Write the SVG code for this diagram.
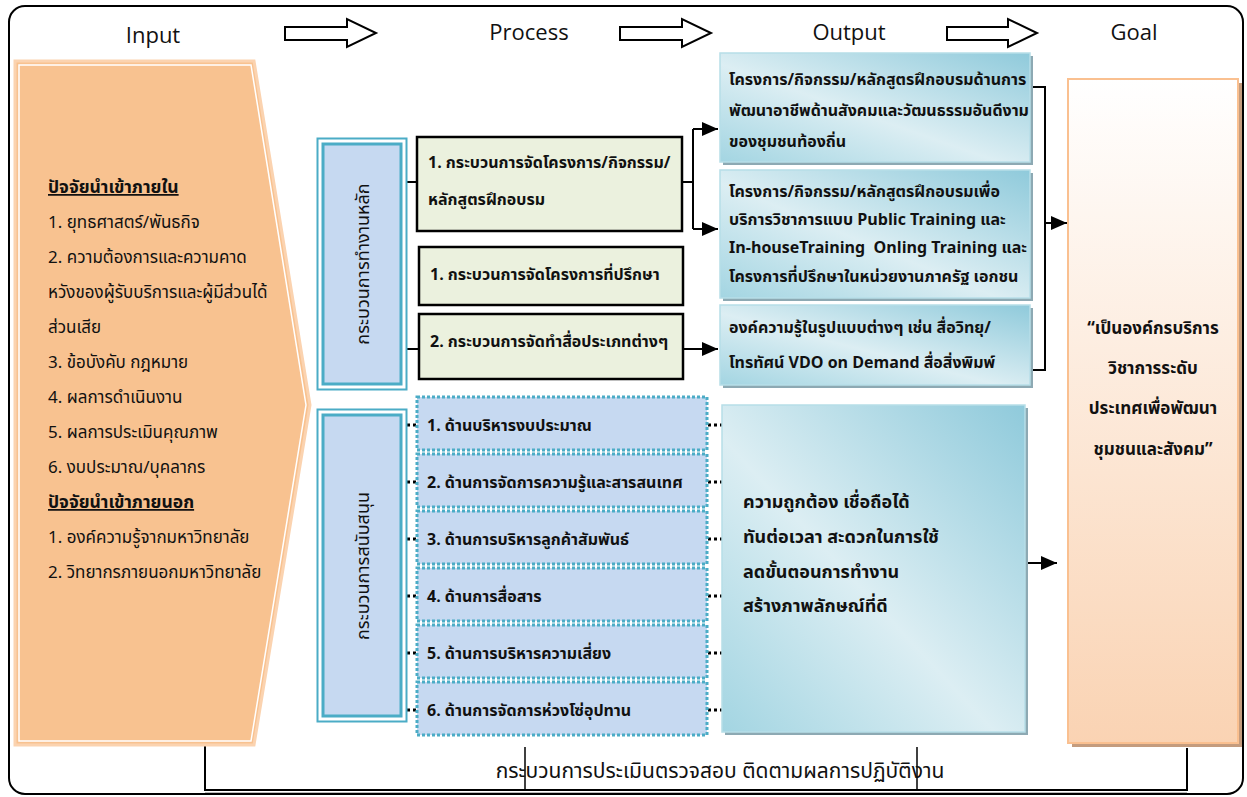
<svg xmlns="http://www.w3.org/2000/svg" width="1247" height="797" viewBox="0 0 1247 797">
<style>
.hdr{font-family:"Open Sans","Liberation Sans",sans-serif;font-size:22px;fill:#111}
.th{font-family:"Noto Sans Thai","Noto Sans Thai UI","Noto Sans","DejaVu Sans",sans-serif;font-size:16px;fill:#111}
.in{font-size:17px}
.inh{font-size:17.5px}
.b{font-weight:bold}
.blk{fill:#fff;stroke:#000;stroke-width:2}
.green{fill:#EBF1DE;stroke:#000;stroke-width:2.5}
.dot{fill:#C6D9F1;stroke:#4BACC6;stroke-width:3;stroke-dasharray:3 2}
.conn{fill:none;stroke:#000;stroke-width:2}
.dots{fill:none;stroke:#000;stroke-width:3;stroke-dasharray:3 3}
.out{fill:url(#gBlue);stroke:#B7DEE8;stroke-width:1.5}
.shb{fill:#8DA9B3}
</style>
<defs>
<linearGradient id="gBlue" x1="1" y1="0" x2="0" y2="1">
<stop offset="0" stop-color="#8FCADB"/>
<stop offset="0.55" stop-color="#DCEEF3"/>
<stop offset="1" stop-color="#A3D5E2"/>
</linearGradient>
<linearGradient id="gGoal" x1="0" y1="0" x2="0" y2="1">
<stop offset="0" stop-color="#FFFFFF"/>
<stop offset="1" stop-color="#FAD3B3"/>
</linearGradient>
<marker id="ah" markerUnits="userSpaceOnUse" markerWidth="16" markerHeight="14" refX="16" refY="7" orient="auto">
<path d="M0,0 L16,7 L0,14 z" fill="#000"/>
</marker>
</defs>

<rect x="9" y="6" width="1234" height="788" rx="16" ry="16" fill="#fff" stroke="#000" stroke-width="2"/>

<g id="headers">
<text class="hdr" x="153" y="43" text-anchor="middle">Input</text>
<text class="hdr" x="529" y="40" text-anchor="middle">Process</text>
<text class="hdr" x="849" y="40" text-anchor="middle">Output</text>
<text class="hdr" x="1134" y="40" text-anchor="middle">Goal</text>
<polygon class="blk" points="285,27 347,27 347,19 376,33 347,47 347,40 285,40"/>
<polygon class="blk" points="620,27 682,27 682,19 711,33 682,47 682,40 620,40"/>
<polygon class="blk" points="947,27 1008,27 1008,19 1037,33 1008,47 1008,40 947,40"/>
</g>

<g id="connectors">
<path class="conn" d="M205,745 V790 H1187 V748"/>
<line x1="205" y1="792.5" x2="1187" y2="792.5" stroke="#bbb" stroke-width="1"/>
<line x1="525" y1="747" x2="525" y2="790" stroke="#000" stroke-width="1.5"/>
<line x1="917" y1="747" x2="917" y2="790" stroke="#000" stroke-width="1.5"/>
<line class="conn" x1="405" y1="182" x2="417" y2="182"/>
<line class="conn" x1="403" y1="349" x2="419" y2="349"/>
<path class="conn" d="M682,182 H693 M693,129 V229"/>
<line class="conn" x1="693" y1="129" x2="718" y2="129" marker-end="url(#ah)"/>
<line class="conn" x1="693" y1="229" x2="718" y2="229" marker-end="url(#ah)"/>
<line class="conn" x1="683" y1="349" x2="718" y2="349" marker-end="url(#ah)"/>
<path class="conn" d="M1030,87 H1045 V370 H1030"/>
<line class="conn" x1="1045" y1="223" x2="1067" y2="223" marker-end="url(#ah)"/>
<line class="conn" x1="1025" y1="563" x2="1057" y2="563" marker-end="url(#ah)"/>
<line class="dots" x1="401" y1="425" x2="416" y2="425"/>
<line class="dots" x1="401" y1="482" x2="416" y2="482"/>
<line class="dots" x1="401" y1="539" x2="416" y2="539"/>
<line class="dots" x1="401" y1="596" x2="416" y2="596"/>
<line class="dots" x1="401" y1="653" x2="416" y2="653"/>
<line class="dots" x1="401" y1="710" x2="416" y2="710"/>
<line class="dots" x1="708" y1="425" x2="722" y2="425"/>
<line class="dots" x1="708" y1="482" x2="722" y2="482"/>
<line class="dots" x1="708" y1="539" x2="722" y2="539"/>
<line class="dots" x1="708" y1="596" x2="722" y2="596"/>
<line class="dots" x1="708" y1="653" x2="722" y2="653"/>
<line class="dots" x1="708" y1="710" x2="722" y2="710"/>
</g>

<g id="input">
<polygon points="15,61 254,61 310,405 254,745 15,745" fill="#F8C290" stroke="#FBD3B0" stroke-width="3"/>
<polygon points="19,65 251,65 306,405 251,741 19,741" fill="none" stroke="#fff" stroke-width="1.5"/>
<text class="th inh b" x="48" y="193" text-decoration="underline">ปัจจัยนำเข้าภายใน</text>
<text class="th in" x="48" y="228">1. ยุทธศาสตร์/พันธกิจ</text>
<text class="th in" x="48" y="263">2. ความต้องการและความคาด</text>
<text class="th in" x="48" y="298">หวังของผู้รับบริการและผู้มีส่วนได้</text>
<text class="th in" x="48" y="333">ส่วนเสีย</text>
<text class="th in" x="48" y="368">3. ข้อบังคับ กฎหมาย</text>
<text class="th in" x="48" y="403">4. ผลการดำเนินงาน</text>
<text class="th in" x="48" y="438">5. ผลการประเมินคุณภาพ</text>
<text class="th in" x="48" y="473">6. งบประมาณ/บุคลากร</text>
<text class="th inh b" x="48" y="508" text-decoration="underline">ปัจจัยนำเข้าภายนอก</text>
<text class="th in" x="48" y="543">1. องค์ความรู้จากมหาวิทยาลัย</text>
<text class="th in" x="48" y="578">2. วิทยากรภายนอกมหาวิทยาลัย</text>
</g>

<g id="main-process">
<rect x="317.5" y="138.5" width="89" height="251" fill="#fff" stroke="#4BACC6" stroke-width="2"/>
<rect x="323" y="144" width="78" height="240" fill="#C6D9F1" stroke="#4BACC6" stroke-width="3"/>
<text class="th" style="font-size:18px" transform="translate(369,264) rotate(-90)" text-anchor="middle">กระบวนการทำงานหลัก</text>
</g>

<g id="support-process">
<rect x="317.5" y="409.5" width="89" height="312" fill="#fff" stroke="#4BACC6" stroke-width="2"/>
<rect x="323" y="415" width="78" height="301" fill="#C6D9F1" stroke="#4BACC6" stroke-width="3"/>
<text class="th" style="font-size:18px" transform="translate(369,566) rotate(-90)" text-anchor="middle">กระบวนการสนับสนุน</text>
</g>

<g id="p1">
<rect class="green" x="417" y="137" width="265" height="94"/>
<text class="th b" x="428" y="168">1. กระบวนการจัดโครงการ/กิจกรรม/</text>
<text class="th b" x="428" y="205">หลักสูตรฝึกอบรม</text>
</g>
<g id="p2">
<rect class="green" x="419" y="247" width="264" height="58"/>
<text class="th b" x="430" y="280">1. กระบวนการจัดโครงการที่ปรึกษา</text>
</g>
<g id="p3">
<rect class="green" x="419" y="314" width="264" height="65"/>
<text class="th b" x="430" y="347">2. กระบวนการจัดทำสื่อประเภทต่างๆ</text>
</g>

<g id="s1"><rect class="dot" x="417" y="397" width="290" height="53"/><text class="th b" x="427" y="431">1. ด้านบริหารงบประมาณ</text></g>
<g id="s2"><rect class="dot" x="417" y="454" width="290" height="53"/><text class="th b" x="427" y="488">2. ด้านการจัดการความรู้และสารสนเทศ</text></g>
<g id="s3"><rect class="dot" x="417" y="511" width="290" height="53"/><text class="th b" x="427" y="545">3. ด้านการบริหารลูกค้าสัมพันธ์</text></g>
<g id="s4"><rect class="dot" x="417" y="568" width="290" height="53"/><text class="th b" x="427" y="602">4. ด้านการสื่อสาร</text></g>
<g id="s5"><rect class="dot" x="417" y="625" width="290" height="53"/><text class="th b" x="427" y="659">5. ด้านการบริหารความเสี่ยง</text></g>
<g id="s6"><rect class="dot" x="417" y="682" width="290" height="53"/><text class="th b" x="427" y="716">6. ด้านการจัดการห่วงโซ่อุปทาน</text></g>

<g id="o1">
<rect class="shb" x="723" y="56" width="310" height="109"/>
<rect class="out" x="720" y="53" width="310" height="109"/>
<text class="th b" x="729" y="85">โครงการ/กิจกรรม/หลักสูตรฝึกอบรมด้านการ</text>
<text class="th b" x="729" y="116">พัฒนาอาชีพด้านสังคมและวัฒนธรรมอันดีงาม</text>
<text class="th b" x="729" y="147">ของชุมชนท้องถิ่น</text>
</g>
<g id="o2">
<rect class="shb" x="723" y="173" width="310" height="128"/>
<rect class="out" x="720" y="170" width="310" height="128"/>
<text class="th b" x="729" y="197">โครงการ/กิจกรรม/หลักสูตรฝึกอบรมเพื่อ</text>
<text class="th b" x="729" y="225">บริการวิชาการแบบ Public Training และ</text>
<text class="th b" x="729" y="253">In-houseTraining&#160; Onling Training และ</text>
<text class="th b" x="729" y="282">โครงการที่ปรึกษาในหน่วยงานภาครัฐ เอกชน</text>
</g>
<g id="o3">
<rect class="shb" x="723" y="308" width="310" height="80"/>
<rect class="out" x="720" y="305" width="310" height="80"/>
<text class="th b" x="729" y="333">องค์ความรู้ในรูปแบบต่างๆ เช่น สื่อวิทยุ/</text>
<text class="th b" x="729" y="368">โทรทัศน์ VDO on Demand สื่อสิ่งพิมพ์</text>
</g>
<g id="o4">
<rect class="shb" x="725" y="408" width="303" height="327"/>
<rect class="out" x="722" y="405" width="303" height="327"/>
<text class="th b" style="font-size:18px" x="743" y="508">ความถูกต้อง เชื่อถือได้</text>
<text class="th b" style="font-size:18px" x="743" y="543">ทันต่อเวลา สะดวกในการใช้</text>
<text class="th b" style="font-size:18px" x="743" y="578">ลดขั้นตอนการทำงาน</text>
<text class="th b" style="font-size:18px" x="743" y="612">สร้างภาพลักษณ์ที่ดี</text>
</g>

<g id="goal">
<rect x="1072" y="83" width="170" height="664" fill="#C49C7E"/>
<rect x="1068" y="79" width="170" height="664" fill="url(#gGoal)" stroke="#FAC090" stroke-width="2"/>
<text class="th b" style="font-size:17px" x="1153" y="334" text-anchor="middle">“เป็นองค์กรบริการ</text>
<text class="th b" style="font-size:17px" x="1153" y="374" text-anchor="middle">วิชาการระดับ</text>
<text class="th b" style="font-size:17px" x="1153" y="414" text-anchor="middle">ประเทศเพื่อพัฒนา</text>
<text class="th b" style="font-size:17px" x="1153" y="455" text-anchor="middle">ชุมชนและสังคม”</text>
</g>

<g id="bottom-label">
<text class="th" x="720" y="778" text-anchor="middle" style="font-size:21px">กระบวนการประเมินตรวจสอบ ติดตามผลการปฏิบัติงาน</text>
</g>
</svg>
